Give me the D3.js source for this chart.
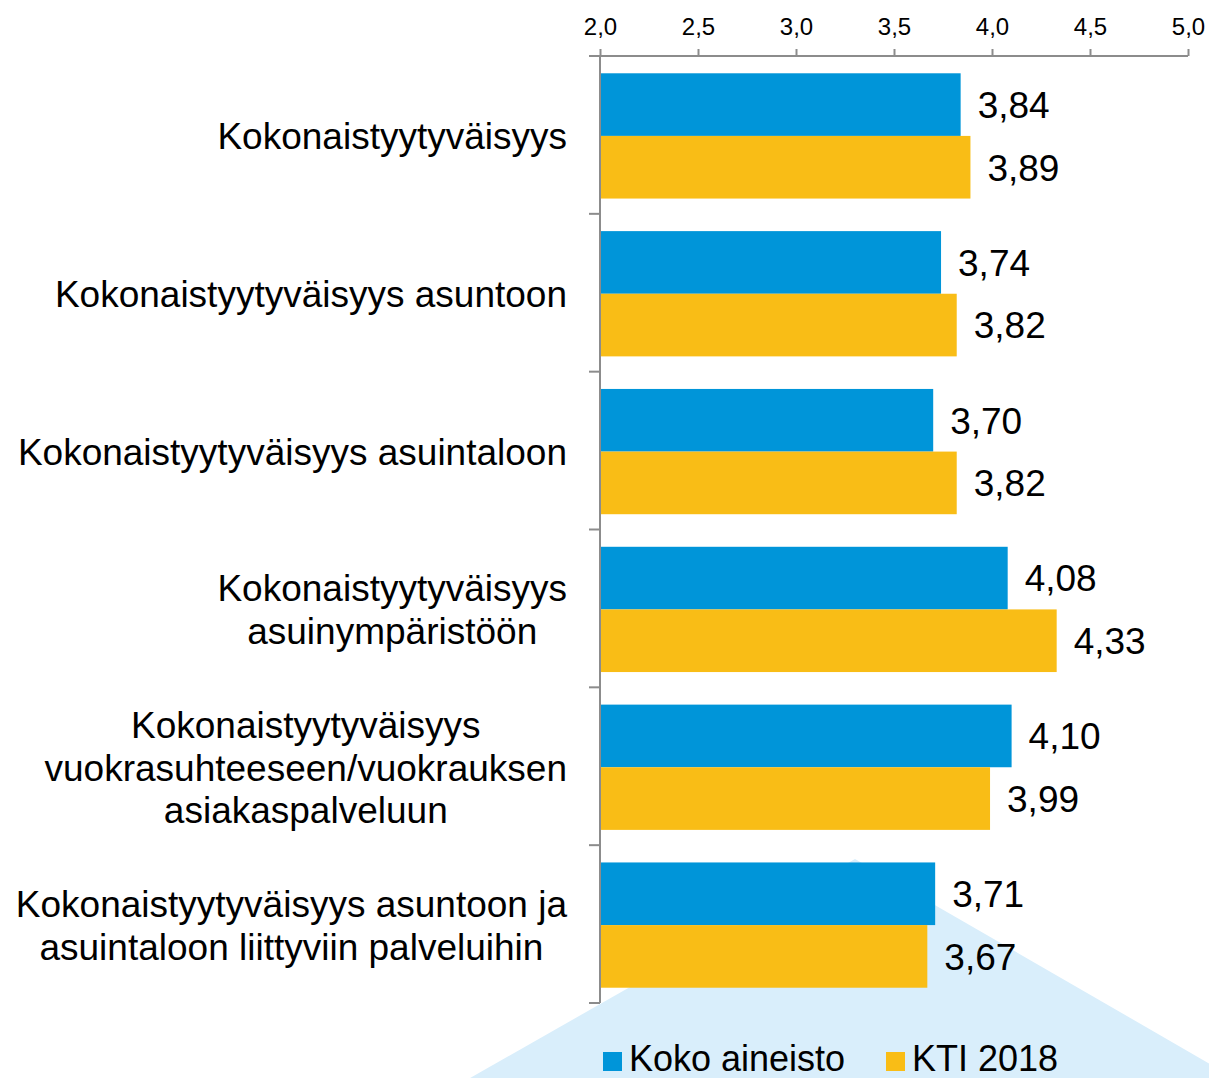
<!DOCTYPE html>
<html>
<head>
<meta charset="utf-8">
<script src="https://d3js.org/d3.v7.min.js"></script>
<style>
    body { margin: 0; background: #ffffff; }
    svg { display: block; font-family: "Liberation Sans", Arial, sans-serif; }
</style>
</head>
<body>
<div id="chart"></div>
<script>
'use strict';

// chart data
var categories = [
    ['Kokonaistyytyväisyys'],
    ['Kokonaistyytyväisyys asuntoon'],
    ['Kokonaistyytyväisyys asuintaloon'],
    ['Kokonaistyytyväisyys', 'asuinympäristöön'],
    ['Kokonaistyytyväisyys', 'vuokrasuhteeseen/vuokrauksen', 'asiakaspalveluun'],
    ['Kokonaistyytyväisyys asuntoon ja', 'asuintaloon liittyviin palveluihin']
];
var seriesNames = ['Koko aineisto', 'KTI 2018'];
var kokoAineisto = [3.84, 3.74, 3.70, 4.08, 4.10, 3.71];
var kti2018 = [3.89, 3.82, 3.82, 4.33, 3.99, 3.67];
var xTicks = [2.0, 2.5, 3.0, 3.5, 4.0, 4.5, 5.0];

var config = {
    width       : 1209,
    height      : 1078,
    left        : 600,
    right       : 1188,
    top         : 56,
    bottom      : 1003,
    labelRight  : 567,
    fontSize    : 37,
    lineHeight  : 42.5,
    colors      : ['#0095d9', '#f9bd16'],
    axisColor   : '#8c8c8c'
};

var fmt = function (v, digits) {
    return v.toFixed(digits).replace('.', ',');
};

var svg = d3.select('#chart')
    .append('svg')
    .attr('width', config.width)
    .attr('height', config.height);

// light blue triangle in the background
svg.append('polygon')
    .attr('points', [[855, 859], [1262, 1094], [442, 1094]].map(function (p) { return p.join(','); }).join(' '))
    .attr('fill', '#d9eefb');

var x = d3.scaleLinear()
    .domain([xTicks[0], xTicks[xTicks.length - 1]])
    .range([config.left, config.right]);

var y0 = d3.scaleBand()
    .domain(d3.range(categories.length))
    .range([config.top, config.bottom]);

var y1 = d3.scaleBand()
    .domain(d3.range(seriesNames.length))
    .range([0, y0.bandwidth()])
    .paddingOuter(0.26);

var values = [kokoAineisto, kti2018];

// bars
var groups = svg.selectAll('g.cat')
    .data(categories)
    .enter().append('g')
    .attr('class', 'cat')
    .attr('transform', function (d, i) { return 'translate(0,' + (y0(i) + 1) + ')'; });

groups.each(function (d, i) {
    var g = d3.select(this);
    seriesNames.forEach(function (s, j) {
        var v = values[j][i];
        g.append('rect')
            .attr('x', x(xTicks[0]))
            .attr('y', y1(j))
            .attr('width', x(v) - x(xTicks[0]))
            .attr('height', y1.bandwidth())
            .attr('fill', config.colors[j]);
        g.append('text')
            .attr('x', x(v) + 17)
            .attr('y', y1(j) + y1.bandwidth() / 2)
            .attr('dy', '0.36em')
            .attr('font-size', config.fontSize)
            .attr('fill', '#000')
            .text(fmt(v, 2));
    });

    // category label: widest line ends at labelRight, the others centred on it
    var label = g.append('text')
        .attr('font-size', config.fontSize)
        .attr('fill', '#000')
        .attr('text-anchor', 'middle');
    var n = d.length;
    var mid = y0.bandwidth() / 2;
    d.forEach(function (line, k) {
        label.append('tspan')
            .attr('y', mid + (k - (n - 1) / 2) * config.lineHeight)
            .attr('dy', '0.36em')
            .text(line);
    });
    var w = 0;
    label.selectAll('tspan').each(function () {
        w = Math.max(w, this.getComputedTextLength());
    });
    label.selectAll('tspan').attr('x', config.labelRight - w / 2);
});

// top value axis
var xAxis = d3.axisTop(x)
    .tickValues(xTicks)
    .tickSize(7)
    .tickSizeOuter(0)
    .tickPadding(14)
    .tickFormat(function (d) { return fmt(d, 1); });

var ax = svg.append('g')
    .attr('transform', 'translate(0,' + config.top + ')')
    .call(xAxis);
ax.select('.domain')
    .attr('stroke', config.axisColor)
    .attr('stroke-width', 2)
    .attr('d', 'M' + (config.left - 11) + ',0H' + config.right);
ax.selectAll('.tick line').attr('stroke', config.axisColor).attr('stroke-width', 2);
ax.selectAll('.tick text')
    .attr('font-size', 24)
    .attr('font-family', '"Liberation Sans", Arial, sans-serif')
    .attr('fill', '#000');

// left category axis with ticks on band boundaries
var boundaries = d3.range(categories.length + 1).map(function (i) {
    return i < categories.length ? y0(i) : config.bottom;
});
svg.append('line')
    .attr('x1', config.left).attr('x2', config.left)
    .attr('y1', config.top).attr('y2', config.bottom)
    .attr('stroke', config.axisColor)
    .attr('stroke-width', 2);
svg.selectAll('line.btick')
    .data(boundaries)
    .enter().append('line')
    .attr('class', 'btick')
    .attr('x1', config.left - 11).attr('x2', config.left)
    .attr('y1', function (d) { return d; })
    .attr('y2', function (d) { return d; })
    .attr('stroke', config.axisColor)
    .attr('stroke-width', 2);

// legend
var legendX = [603, 886];
var legend = svg.selectAll('g.legend')
    .data(seriesNames)
    .enter().append('g')
    .attr('class', 'legend')
    .attr('transform', function (d, i) { return 'translate(' + legendX[i] + ',1052)'; });
legend.append('rect')
    .attr('width', 19)
    .attr('height', 19)
    .attr('fill', function (d, i) { return config.colors[i]; });
legend.append('text')
    .attr('x', 26)
    .attr('y', 19)
    .attr('font-size', 36)
    .attr('fill', '#000')
    .text(function (d) { return d; });
</script>
</body>
</html>
